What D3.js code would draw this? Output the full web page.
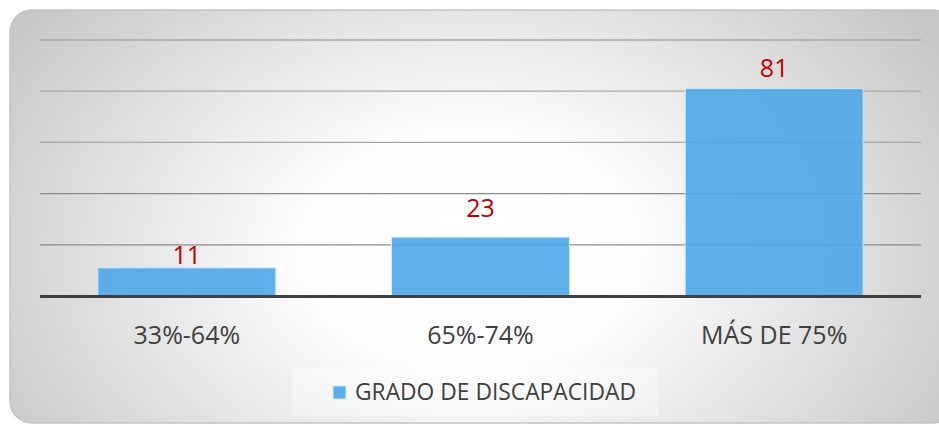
<!DOCTYPE html>
<html>
<head>
<meta charset="utf-8">
<script src="https://cdn.jsdelivr.net/npm/d3@7"></script>
<style>
  body { margin: 0; background: #fff; }
  svg { display: block; font-family: "Open Sans", "Noto Sans", sans-serif; }
</style>
</head>
<body>
<svg id="chart"></svg>
<script>
const categories = ["33%-64%", "65%-74%", "MÁS DE 75%"];
const values = [11, 23, 81];
const yTicks = [0, 20, 40, 60, 80, 100];
const seriesName = "GRADO DE DISCAPACIDAD";

const width = 939, height = 425;
const margin = {top: 40, right: 18, bottom: 129, left: 40};

const svg = d3.select("#chart").attr("width", width).attr("height", height);
const defs = svg.append("defs");

// radial background: white in the middle, grey towards the edges
const grad = defs.append("radialGradient")
    .attr("id", "bg")
    .attr("gradientUnits", "userSpaceOnUse")
    .attr("cx", 470).attr("cy", 250).attr("r", 560)
    .attr("gradientTransform", "translate(470,250) scale(1,0.7) translate(-470,-250)");
grad.append("stop").attr("offset", "0%").attr("stop-color", "#ffffff");
grad.append("stop").attr("offset", "30%").attr("stop-color", "#fdfdfd");
grad.append("stop").attr("offset", "100%").attr("stop-color", "#c6c6c6");

svg.append("rect")
    .attr("x", 10).attr("y", 10)
    .attr("width", 945).attr("height", 413)
    .attr("rx", 22).attr("ry", 22)
    .attr("fill", "url(#bg)")
    .attr("stroke", "#c4c4c4")
    .attr("stroke-width", 1.5);

const x = d3.scaleBand()
    .domain(categories)
    .range([margin.left, width - margin.right])
    .paddingInner(0.394)
    .paddingOuter(0.197);

const y = d3.scaleLinear()
    .domain([0, 100])
    .range([height - margin.bottom, margin.top]);

// gridlines
svg.append("g")
    .selectAll("line")
    .data(yTicks.slice(1))
    .join("line")
    .attr("x1", margin.left)
    .attr("x2", width - margin.right)
    .attr("y1", d => y(d))
    .attr("y2", d => y(d))
    .attr("stroke", d => d <= 40 ? "#8c8c8c" : "#a8a8a8")
    .attr("stroke-width", 1.3);

// bars
svg.append("g")
    .selectAll("rect")
    .data(values)
    .join("rect")
    .attr("x", (d, i) => x(categories[i]))
    .attr("y", d => y(d))
    .attr("width", x.bandwidth())
    .attr("height", d => y(0) - y(d))
    .attr("fill", "#4da6e8")
    .attr("fill-opacity", 0.9)
    .attr("stroke", "#d3e9f8")
    .attr("stroke-width", 1);

// baseline
svg.append("line")
    .attr("x1", margin.left)
    .attr("x2", width - margin.right)
    .attr("y1", y(0) + 0.5)
    .attr("y2", y(0) + 0.5)
    .attr("stroke", "#404040")
    .attr("stroke-width", 3);

// value labels (hand-placed in the original, gaps vary)
const labelGap = [4, 20, 12];
svg.append("g")
    .selectAll("text")
    .data(values)
    .join("text")
    .attr("x", (d, i) => x(categories[i]) + x.bandwidth() / 2)
    .attr("y", (d, i) => y(d) - labelGap[i])
    .attr("text-anchor", "middle")
    .attr("font-size", "25px")
    .attr("fill", "#c00000")
    .text(d => d);

// category labels
svg.append("g")
    .selectAll("text")
    .data(categories)
    .join("text")
    .attr("x", d => x(d) + x.bandwidth() / 2)
    .attr("y", 344)
    .attr("text-anchor", "middle")
    .attr("font-size", "25px")
    .attr("fill", "#404040")
    .text(d => d);

// legend
const legend = svg.append("g");
legend.append("rect")
    .attr("x", 292).attr("y", 368)
    .attr("width", 366).attr("height", 48)
    .attr("fill", "#ffffff")
    .attr("fill-opacity", 0.35);
legend.append("rect")
    .attr("x", 333).attr("y", 386)
    .attr("width", 13).attr("height", 13)
    .attr("fill", "#5dade8")
    .attr("stroke", "#d3e9f8");
legend.append("text")
    .attr("x", 355).attr("y", 400)
    .attr("font-size", "22.8px")
    .attr("fill", "#404040")
    .text(seriesName);
</script>
</body>
</html>
